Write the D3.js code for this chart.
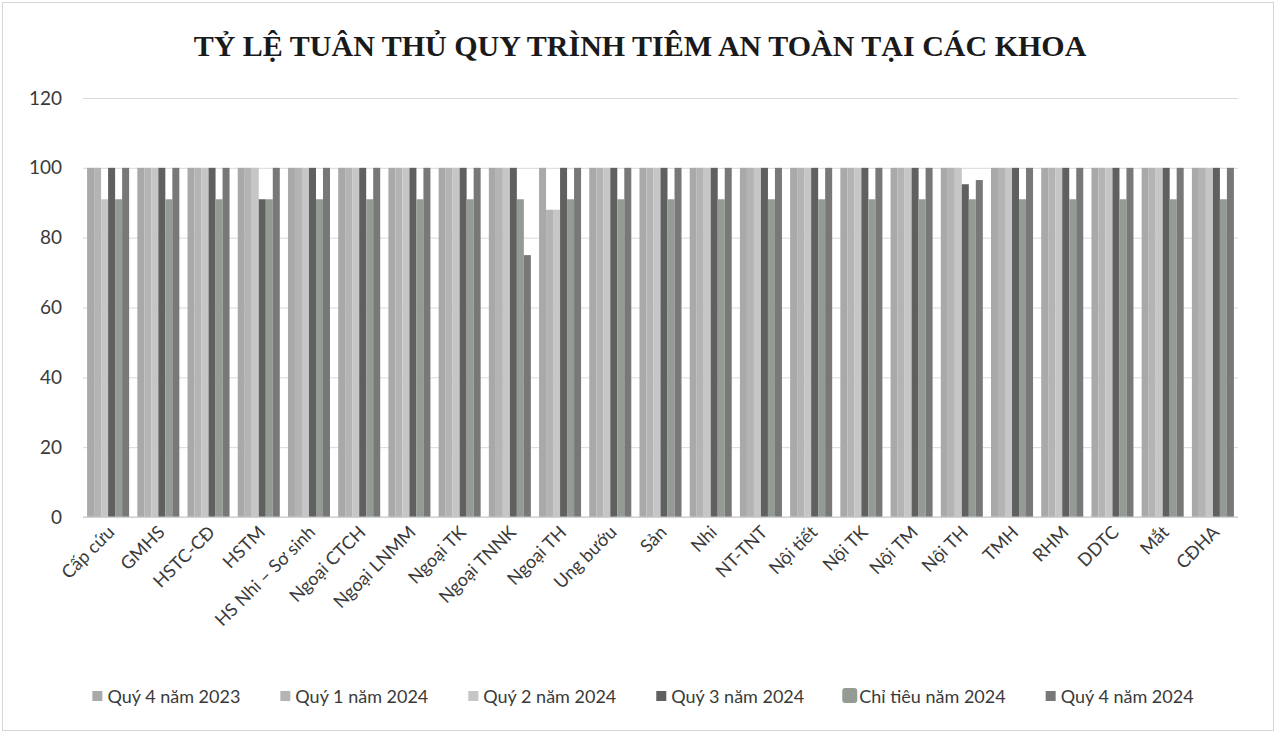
<!DOCTYPE html>
<html>
<head>
<meta charset="utf-8">
<script src="https://cdn.jsdelivr.net/npm/d3@7/dist/d3.min.js"></script>
<style>
  html, body { margin: 0; padding: 0; background: #ffffff; }
  svg { display: block; }
</style>
</head>
<body>
<svg id="chart" width="1277" height="738"></svg>
<script>
// Departments (x categories)
const categories = ["Cấp cứu", "GMHS", "HSTC-CĐ", "HSTM", "HS Nhi – Sơ sinh", "Ngoại CTCH",
  "Ngoại LNMM", "Ngoại TK", "Ngoại TNNK", "Ngoại TH", "Ung bướu", "Sản", "Nhi", "NT-TNT",
  "Nội tiết", "Nội TK", "Nội TM", "Nội TH", "TMH", "RHM", "DDTC", "Mắt", "CĐHA"];

// Series names, in drawing / legend order
const seriesNames = ["Quý 4 năm 2023", "Quý 1 năm 2024", "Quý 2 năm 2024",
  "Quý 3 năm 2024", "Chỉ tiêu năm 2024", "Quý 4 năm 2024"];

// Compliance rate (%) per department
const q4_2023   = [100,100,100,100,100,100,100,100,100,100,100,100,100,100,100,100,100,100,100,100,100,100,100];
const q1_2024   = [100,100,100,100,100,100,100,100,100, 88,100,100,100,100,100,100,100,100,100,100,100,100,100];
const q2_2024   = [ 91,100,100,100,100,100,100,100,100, 88,100,100,100,100,100,100,100,100,100,100,100,100,100];
const q3_2024   = [100,100,100, 91,100,100,100,100,100,100,100,100,100,100,100,100,100,95.3,100,100,100,100,100];
const target_2024 = [91,91,91,91,91,91,91,91,91,91,91,91,91,91,91,91,91,91,91,91,91,91,91];
const q4_2024   = [100,100,100,100,100,100,100,100, 75,100,100,100,100,100,100,100,100,96.5,100,100,100,100,100];

const seriesValues = [q4_2023, q1_2024, q2_2024, q3_2024, target_2024, q4_2024];

// Y axis ticks
const yTicks = [0, 20, 40, 60, 80, 100, 120];

const titleText = "TỶ LỆ TUÂN THỦ QUY TRÌNH TIÊM AN TOÀN TẠI CÁC KHOA";

// ---- styling ----
const colors = ["#a9a9a9", "#b4b4b4", "#c6c6c6", "#606060", "#949b95", "#787878"];
const uiFont = "Lato, 'Open Sans', sans-serif";

const svg = d3.select("#chart");
const W = 1277, H = 738;

// frame of the chart area
svg.append("rect")
  .attr("x", 2.5).attr("y", 2.5).attr("width", W - 6).attr("height", H - 10)
  .attr("fill", "#ffffff").attr("stroke", "#d6d6d6").attr("stroke-width", 1);

const plot = { left: 83, right: 1238, top: 98, bottom: 517 };

const x0 = d3.scaleBand()
  .domain(categories)
  .range([plot.left, plot.right])
  .paddingInner(0.163)
  .paddingOuter(0.0815);

const x1 = d3.scaleBand()
  .domain(d3.range(seriesNames.length))
  .range([0, x0.bandwidth()]);

const y = d3.scaleLinear().domain([0, 120]).range([plot.bottom, plot.top]);

// Title
svg.append("text")
  .attr("x", 640).attr("y", 56)
  .attr("text-anchor", "middle")
  .attr("font-family", "'Liberation Serif', 'Times New Roman', serif")
  .attr("font-weight", "bold")
  .attr("font-size", 30)
  .attr("fill", "#1a1a1a")
  .text(titleText);

// Gridlines and y labels
const yAxis = d3.axisLeft(y).tickValues(yTicks).tickSize(-(plot.right - plot.left)).tickPadding(21);
const gy = svg.append("g").attr("transform", `translate(${plot.left},0)`).call(yAxis);
gy.select(".domain").remove();
gy.selectAll(".tick line").attr("stroke", "#dadada").attr("stroke-width", 1);
gy.selectAll(".tick text")
  .attr("font-family", uiFont).attr("font-size", 19).attr("fill", "#3a3a3a");

// Bars
const groups = svg.append("g").selectAll("g")
  .data(categories)
  .join("g")
  .attr("transform", d => `translate(${x0(d)},0)`);

groups.selectAll("rect")
  .data((d, i) => seriesValues.map((vals, s) => ({ s, v: vals[i] })))
  .join("rect")
  .attr("x", d => x1(d.s))
  .attr("width", x1.bandwidth())
  .attr("y", d => y(d.v))
  .attr("height", d => y(0) - y(d.v))
  .attr("fill", d => colors[d.s]);

// Baseline
svg.append("line")
  .attr("x1", plot.left).attr("x2", plot.right)
  .attr("y1", y(0)).attr("y2", y(0))
  .attr("stroke", "#c8c8c8").attr("stroke-width", 1);

// X axis category labels, rotated
const xAxis = d3.axisBottom(x0).tickSize(0).tickPadding(0);
const gx = svg.append("g").attr("transform", `translate(0,${y(0) + 12})`).call(xAxis);
gx.select(".domain").remove();
gx.selectAll(".tick text")
  .attr("font-family", uiFont).attr("font-size", 18).attr("fill", "#3a3a3a")
  .attr("text-anchor", "end")
  .attr("dy", "0.35em")
  .attr("transform", "translate(3,0) rotate(-45)");

// Legend
const legend = svg.append("g");
const legendY = 697;
const items = legend.selectAll("g").data(seriesNames).join("g");
items.append("rect")
  .attr("x", (d, i) => i === 4 ? -2 : 0)
  .attr("y", (d, i) => i === 4 ? -9 : -6)
  .attr("width", (d, i) => i === 4 ? 15 : 10)
  .attr("height", (d, i) => i === 4 ? 15 : 10)
  .attr("rx", (d, i) => i === 4 ? 3 : 0)
  .attr("fill", (d, i) => colors[i]);
items.append("text")
  .attr("x", 15)
  .attr("y", 0)
  .attr("dy", "0.32em")
  .attr("font-family", uiFont).attr("font-size", 18).attr("fill", "#3a3a3a")
  .text(d => d);

let cursor = 0;
const gap = 40;
items.each(function () {
  const g = d3.select(this);
  g.attr("transform", `translate(${cursor},${legendY})`);
  const tw = g.select("text").node().getComputedTextLength();
  cursor += 15 + tw + gap;
});
const legendWidth = cursor - gap;
legend.attr("transform", `translate(${643 - legendWidth / 2},0)`);
</script>
</body>
</html>
